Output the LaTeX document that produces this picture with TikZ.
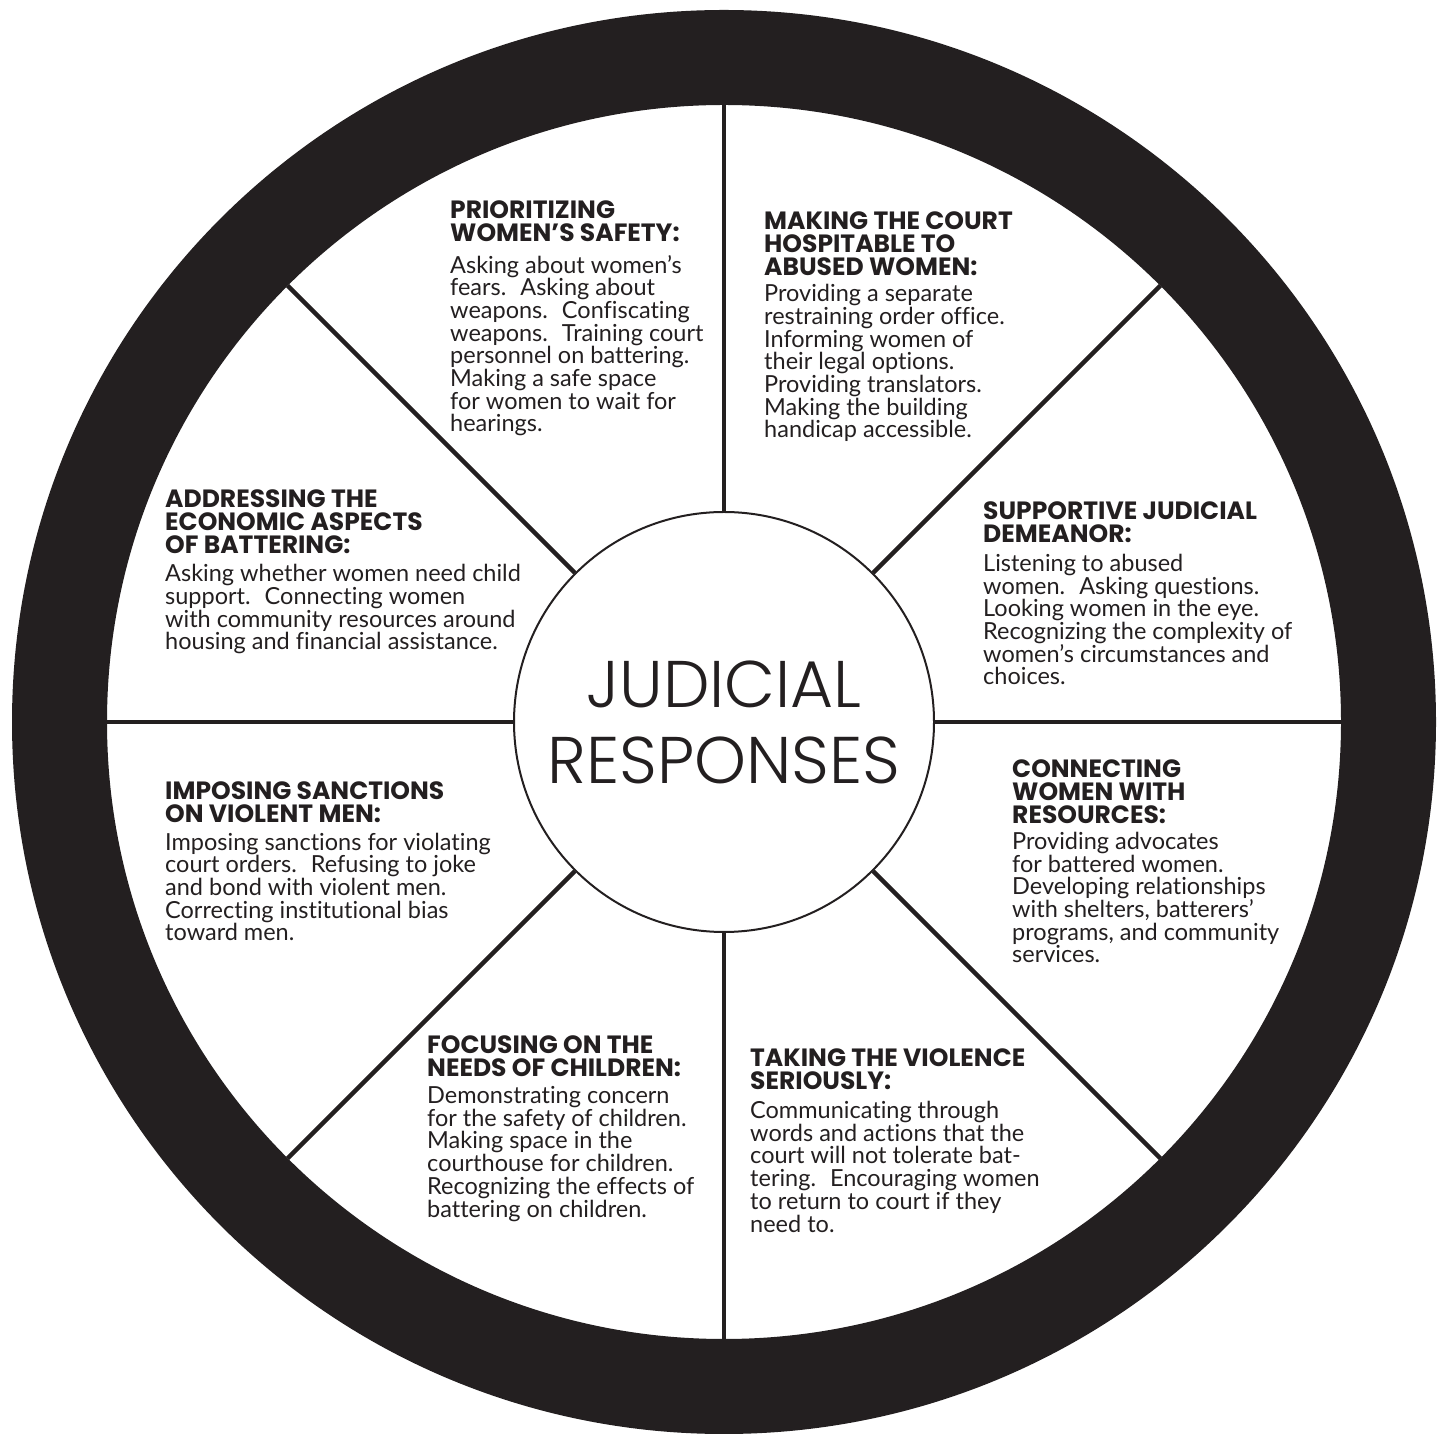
\documentclass[tikz,border=0pt]{standalone}
\usepackage{fontspec}
\setmainfont{Lato}[Ligatures=NoCommon]
\newfontfamily\headfont{Poppins}
\newfontfamily\hubfont{Poppins Light}
\definecolor{wheelblack}{HTML}{231F20}

% base west of a multi-line node = baseline of its last line
\tikzset{
  heading/.style={anchor=base west, align=left, inner sep=0pt, text=wheelblack,
    font=\headfont\bfseries\fontsize{25}{23}\selectfont},
  body/.style={anchor=base west, align=left, inner sep=0pt, text=wheelblack,
    font=\fontsize{23.5}{22.7}\selectfont},
  spoke/.style={wheelblack, line width=4.5pt},
}

\begin{document}
\begin{tikzpicture}[x=1pt, y=1pt]
		\useasboundingbox (0,0) rectangle (1445,1433);
		\newcommand{\Rout}{712}
		\newcommand{\Rin}{617}
		\coordinate (C) at (724,711);
		
		% rim
		\fill[wheelblack, even odd rule] (C) circle[radius=\Rout] (C) circle[radius=\Rin];
		
		% hub
		\node[circle, draw=wheelblack, line width=2pt, minimum size=420pt, inner sep=0pt, align=center, text=wheelblack,
			font=\hubfont\fontsize{66}{76}\selectfont] (hub) at (C) {JUDICIAL\\RESPONSES};
		
		% spokes
		\foreach \a in {0,45,...,315}{
			\path (C) ++(\a:\Rin) coordinate (rim\a);
			\draw[spoke] (hub.\a) -- (rim\a);
		}
		
		\node[heading] (prioHead) at (450,1191) {PRIORITIZING\\WOMEN’S SAFETY:};
		\node[body] (prioBody) at (450,1001) {Asking about women’s\\fears.~ Asking about\\weapons.~ Confiscating\\weapons.~ Training court\\personnel on battering.\\Making a safe space\\for women to wait for\\hearings.};
		
		\node[heading] (courtHead) at (764,1157) {MAKING THE COURT\\HOSPITABLE TO\\ABUSED WOMEN:};
		\node[body] (courtBody) at (764,995) {Providing a separate\\restraining order office.\\Informing women of\\their legal options.\\Providing translators.\\Making the building\\handicap accessible.};
		
		\node[heading] (judgeHead) at (983,890) {SUPPORTIVE JUDICIAL\\DEMEANOR:};
		\node[body] (judgeBody) at (983,748) {Listening to abused\\women.~ Asking questions.\\Looking women in the eye.\\Recognizing the complexity of\\women’s circumstances and\\choices.};
		
		\node[heading] (resHead) at (1012,609) {CONNECTING\\WOMEN WITH\\RESOURCES:};
		\node[body] (resBody) at (1012,470) {Providing advocates\\for battered women.\\Developing relationships\\with shelters, batterers’\\programs, and community\\services.};
		
		\node[heading] (violHead) at (750,344) {TAKING THE VIOLENCE\\SERIOUSLY:};
		\node[body] (violBody) at (750,201) {Communicating through\\words and actions that the\\court will not tolerate bat-\\tering.~ Encouraging women\\to return to court if they\\need to.};
		
		\node[heading] (kidsHead) at (427,356) {FOCUSING ON THE\\NEEDS OF CHILDREN:};
		\node[body] (kidsBody) at (427,216) {Demonstrating concern\\for the safety of children.\\Making space in the\\courthouse for children.\\Recognizing the effects of\\battering on children.};
		
		\node[heading] (menHead) at (165,610) {IMPOSING SANCTIONS\\ON VIOLENT MEN:};
		\node[body] (menBody) at (165,492) {Imposing sanctions for violating\\court orders.~ Refusing to joke\\and bond with violent men.\\Correcting institutional bias\\toward men.};
		
		\node[heading] (econHead) at (165,879) {ADDRESSING THE\\ECONOMIC ASPECTS\\OF BATTERING:};
		\node[body] (econBody) at (165,783) {Asking whether women need child\\support.~ Connecting women\\with community resources around\\housing and financial assistance.};
	\end{tikzpicture}
\end{document}
